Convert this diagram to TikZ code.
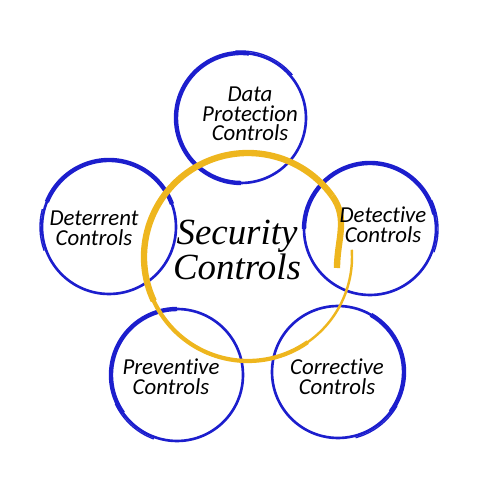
\documentclass[tikz,border=0pt]{standalone}
\usepackage{fontspec}
\setmainfont{Liberation Serif}
\newfontfamily\lblfont[Ligatures=NoCommon]{Carlito}
\definecolor{ringblue}{RGB}{28,30,205}
\definecolor{ringgold}{RGB}{238,182,30}
\tikzset{
  ring/.style={circle, draw=ringblue, line width=1.5pt, inner sep=0pt, minimum size=#1},
  brush/.style={draw=ringblue, line width=2.5pt},
  tail/.style={draw=ringblue, line width=0.8pt},
  goldthick/.style={draw=ringgold, line width=3.6pt},
  goldmid/.style={draw=ringgold, line width=2.4pt},
  goldthin/.style={draw=ringgold, line width=1.4pt},
  lbl/.style={align=center, font=\lblfont\itshape\fontsize{13}{11.2}\selectfont},
  title/.style={align=center, font=\itshape\fontsize{21}{18.5}\selectfont}
}

\begin{document}
\begin{tikzpicture}[x=0.02cm, y=0.02cm]
    \useasboundingbox (0,0) rectangle (500,500);

    % Outer rings
    \node [ring=2.6cm] (dp) at (241,382) {};
    \node [ring=2.68cm] (dtc) at (109,273) {};
    \node [ring=2.64cm] (det) at (370,271) {};
    \node [ring=2.64cm] (prv) at (177,125) {};
    \node [ring=2.64cm] (cor) at (338,128) {};
    \node [circle, minimum size=4.16cm] (sec) at (248,243) {};

    % Brush strokes on the rings
    \draw [brush] ([shift={(83:65)}]dp.center) arc [start angle=83, end angle=270, radius=65];
    \draw [tail] ([shift={(95:67)}]dp.center) arc [start angle=95, end angle=40, radius=67];
    \draw [brush] ([shift={(158:67)}]dtc.center) arc [start angle=158, end angle=20, radius=67];
    \draw [tail] ([shift={(165:69)}]dtc.center) arc [start angle=165, end angle=200, radius=69];
    \draw [brush] ([shift={(13:66)}]det.center) arc [start angle=13, end angle=180, radius=66];
    \draw [tail] ([shift={(25:68)}]det.center) arc [start angle=25, end angle=-20, radius=68];
    \draw [brush] ([shift={(215:66)}]prv.center) arc [start angle=215, end angle=90, radius=66];
    \draw [tail] ([shift={(205:68)}]prv.center) arc [start angle=205, end angle=250, radius=68];
    \draw [brush] ([shift={(-37:66)}]cor.center) arc [start angle=-37, end angle=60, radius=66];
    \draw [tail] ([shift={(-30:68)}]cor.center) arc [start angle=-30, end angle=-75, radius=68];

    % Centre ring
    \draw [goldthick] ([shift={(36:104)}]sec.center) arc [start angle=36, end angle=205, radius=104];
    \draw [goldthick] ([shift={(36:104)}]sec.center) to [out=-54, in=90] ([shift={(89,-11)}]sec.center);
    \draw [goldmid] ([shift={(200:104)}]sec.center) arc [start angle=200, end angle=305, radius=104];
    \draw [goldthin] ([shift={(300:104)}]sec.center) arc [start angle=300, end angle=364, radius=104];

    % Labels
    \node [lbl] (dpl) at (250,386) {Data\\Protection\\Controls};
    \node [lbl] (dtcl) at (94,272) {Deterrent\\Controls};
    \node [lbl] (detl) at (383,275) {Detective\\Controls};
    \node [lbl] (prvl) at (171,123) {Preventive\\Controls};
    \node [lbl] (corl) at (337,123) {Corrective\\Controls};
    \node [title] (secl) at (237,250) {Security\\Controls};
\end{tikzpicture}
\end{document}
